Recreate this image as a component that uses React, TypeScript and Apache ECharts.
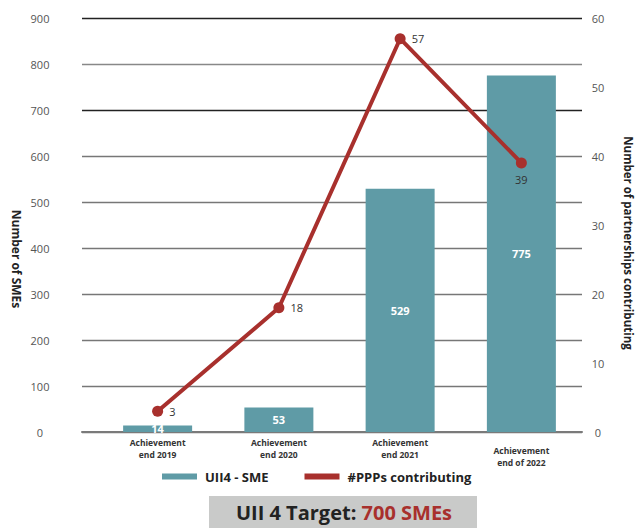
import React, { useEffect, useRef } from "react";
import * as echarts from "echarts";

const categories = [
  "Achievement\nend 2019",
  "Achievement\nend 2020",
  "Achievement\nend 2021",
  "Achievement\nend of 2022",
];
const smeValues = [14, 53, 529, 775];
const pppValues = [3, 18, 57, 39];
const pppLabelPositions = ["right", "right", "right", "bottom"];
const smeTicks = { min: 0, max: 900, interval: 100 };
const pppTicks = { min: 0, max: 60, interval: 10 };

const TEAL = "#5f9ba6";
const RED = "#a8302d";
const FONT = "'Open Sans', 'Noto Sans', sans-serif";

export default function App() {
  const ref = useRef<HTMLDivElement>(null);

  useEffect(() => {
    if (!ref.current) return;
    const chart = echarts.init(ref.current, null, { renderer: "svg" });

    const gridTop = 18;
    const gridHeight = 414;

    chart.setOption({
      animation: false,
      textStyle: { fontFamily: FONT },
      grid: [
        // data grid
        { left: 97, right: 55, top: gridTop, height: gridHeight },
        // grid carrying the ruled lines and tick labels
        { left: 82, right: 55, top: gridTop, height: gridHeight },
      ],
      xAxis: [
        {
          type: "category",
          gridIndex: 0,
          data: categories.map((c, i) =>
            i === 3 ? { value: c, textStyle: { padding: [8, 0, 0, 0] } } : c
          ),
          axisLine: { show: false },
          axisTick: { show: false },
          axisLabel: {
            margin: 4,
            fontSize: 8.5,
            fontWeight: "bold",
            color: "#333",
            lineHeight: 12,
            interval: 0,
          },
        },
        {
          type: "value",
          gridIndex: 1,
          min: 0,
          max: 1,
          show: true,
          axisLine: { show: true, lineStyle: { color: "#7a7a7a", width: 2 } },
          axisTick: { show: false },
          axisLabel: { show: false },
          splitLine: { show: false },
        },
      ],
      yAxis: [
        {
          type: "value",
          gridIndex: 0,
          position: "left",
          ...smeTicks,
          show: false,
        },
        {
          type: "value",
          gridIndex: 0,
          position: "right",
          ...pppTicks,
          show: false,
        },
        {
          type: "value",
          gridIndex: 1,
          position: "left",
          ...smeTicks,
          axisLine: { show: false },
          axisTick: { show: false },
          axisLabel: {
            margin: 42,
            align: "center",
            fontSize: 11,
            color: "#555",
          },
          splitLine: {
            show: true,
            lineStyle: {
              width: 1.3,
              color: [
                "#7a7a7a",
                "#777",
                "#777",
                "#777",
                "#777",
                "#777",
                "#777",
                "#222",
                "#888",
                "#222",
              ],
            },
          },
        },
        {
          type: "value",
          gridIndex: 1,
          position: "right",
          ...pppTicks,
          axisLine: { show: false },
          axisTick: { show: false },
          axisLabel: {
            margin: 16,
            align: "center",
            fontSize: 11,
            color: "#555",
          },
          splitLine: { show: false },
        },
      ],
      legend: {
        left: 162,
        top: 470,
        padding: 0,
        icon: "rect",
        itemWidth: 35,
        itemHeight: 6,
        itemGap: 36,
        textStyle: {
          fontSize: 13,
          fontWeight: "bold",
          color: "#222",
          padding: [0, 0, 0, 3],
        },
        data: ["UII4 - SME", "#PPPs contributing"],
      },
      series: [
        {
          name: "UII4 - SME",
          type: "bar",
          xAxisIndex: 0,
          yAxisIndex: 0,
          barWidth: 69,
          itemStyle: { color: TEAL },
          label: {
            show: true,
            position: "inside",
            color: "#fff",
            fontWeight: "bold",
            fontSize: 11,
          },
          data: smeValues,
        },
        {
          name: "#PPPs contributing",
          type: "line",
          xAxisIndex: 0,
          yAxisIndex: 1,
          symbol: "circle",
          symbolSize: 11,
          lineStyle: { color: RED, width: 4 },
          itemStyle: { color: RED },
          z: 5,
          data: pppValues.map((v, i) => ({
            value: v,
            label: {
              show: true,
              position: pppLabelPositions[i],
              distance: 6,
              color: "#333",
              fontSize: 11,
            },
          })),
        },
      ],
      graphic: [
        {
          type: "text",
          x: 16,
          y: 259,
          rotation: -Math.PI / 2,
          style: {
            text: "Number of SMEs",
            fontFamily: FONT,
            fontSize: 12,
            fontWeight: "bold",
            fill: "#222",
            align: "center",
            verticalAlign: "middle",
          },
        },
        {
          type: "text",
          x: 628,
          y: 243,
          rotation: -Math.PI / 2,
          style: {
            text: "Number of partnerships contributing",
            fontFamily: FONT,
            fontSize: 11.5,
            fontWeight: "bold",
            fill: "#222",
            align: "center",
            verticalAlign: "middle",
          },
        },
        {
          type: "rect",
          shape: { x: 209, y: 496, width: 268, height: 32 },
          style: { fill: "#c9cac9" },
        },
        {
          type: "text",
          x: 344,
          y: 512,
          style: {
            text: "{a|UII 4 Target: }{b|700 SMEs}",
            align: "center",
            verticalAlign: "middle",
            rich: {
              a: {
                fontFamily: FONT,
                fontSize: 20,
                fontWeight: "bold",
                fill: "#222",
                color: "#222",
              },
              b: {
                fontFamily: FONT,
                fontSize: 20,
                fontWeight: "bold",
                fill: RED,
                color: RED,
              },
            },
          },
        },
      ],
    });

    return () => chart.dispose();
  }, []);

  return (
    <div
      ref={ref}
      style={{
        position: "absolute",
        left: 0,
        top: 0,
        width: 637,
        height: 528,
        background: "#fff",
      }}
    />
  );
}
